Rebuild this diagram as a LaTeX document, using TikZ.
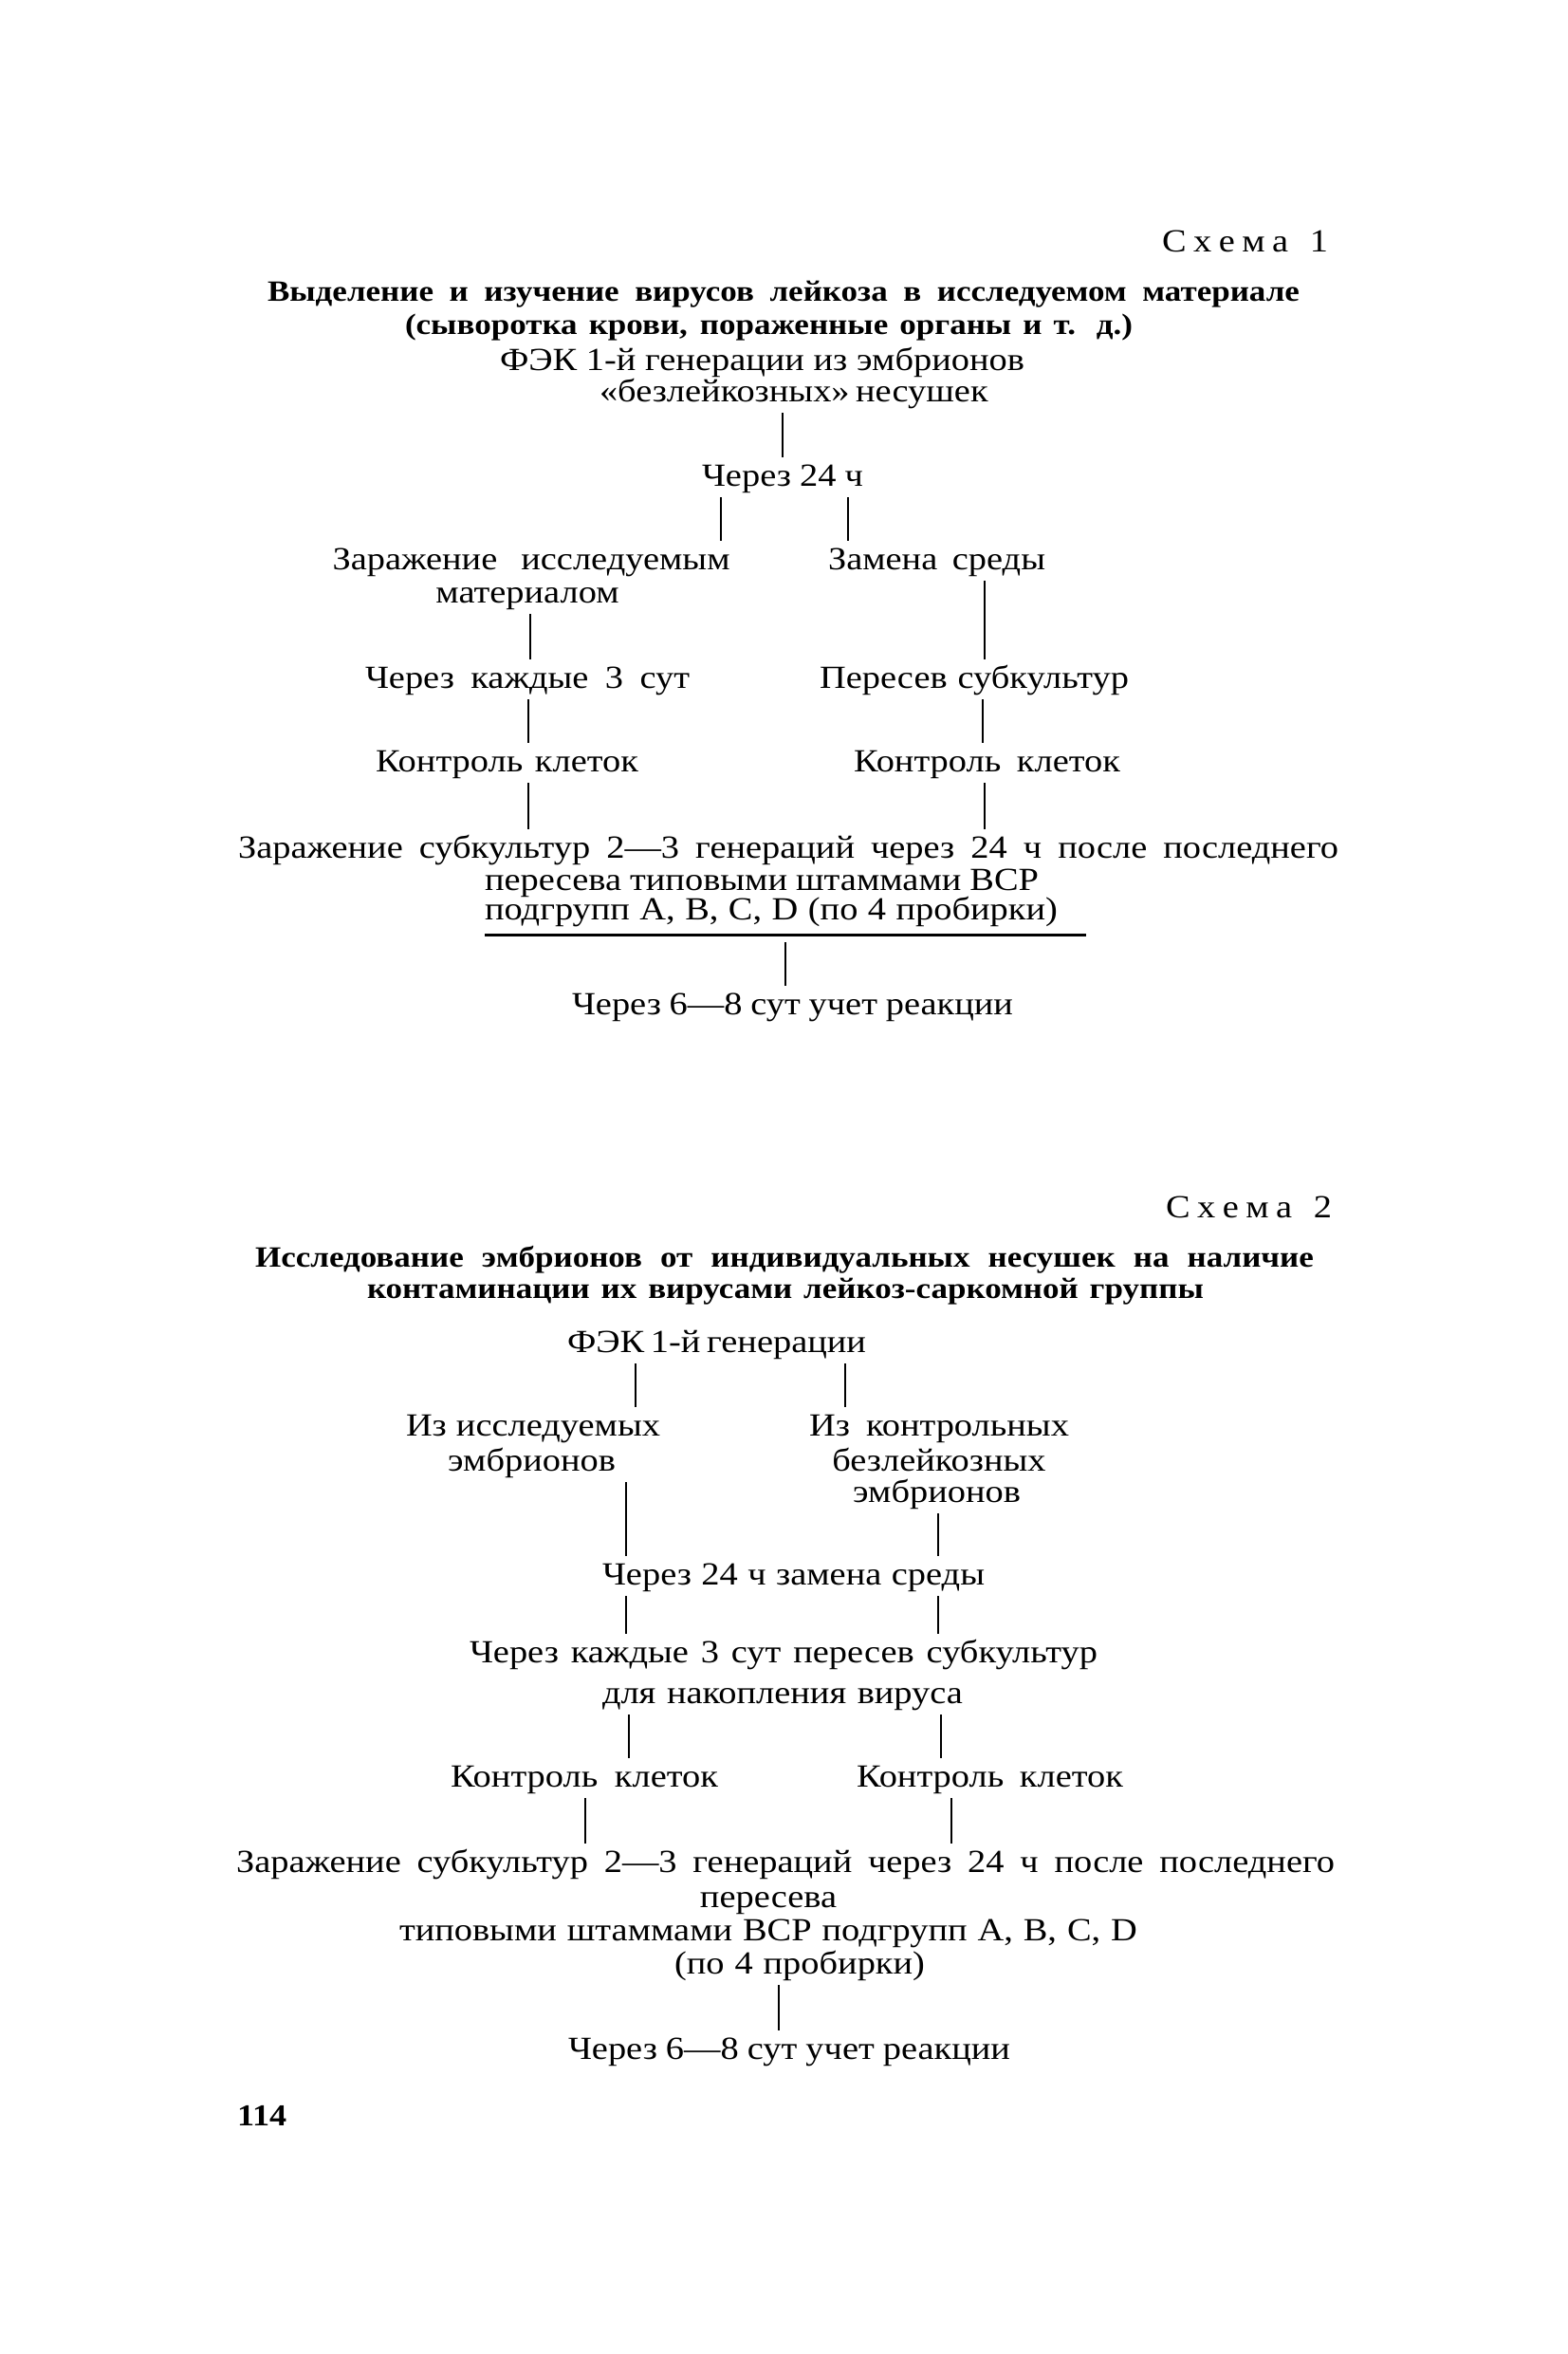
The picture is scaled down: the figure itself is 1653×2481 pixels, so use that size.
\documentclass[tikz,border=0pt]{standalone}
\usepackage{fontspec}
\setmainfont{Liberation Serif}[FakeStretch=1.13]
\newcommand\fitline[2]{\makebox[#1pt][s]{#2}}
\tikzset{
  txt/.style={inner sep=0pt, outer sep=0pt, text height=24pt, text depth=8pt, font=\fontsize{34}{36}\selectfont},
  hd/.style={inner sep=0pt, outer sep=0pt, text height=23pt, text depth=8pt, font=\fontsize{31}{33}\selectfont\bfseries},
  conn/.style={line width=2.6pt, shorten <=4pt, shorten >=6pt},
  rulestyle/.style={line width=3pt},
}
\begin{document}
\begin{tikzpicture}[x=1pt,y=-1pt]
\fill[white] (0,0) rectangle (1653,2481);
\useasboundingbox (0,0) rectangle (1653,2481);

% ---------------- Scheme 1 ----------------
\node[txt,anchor=base east] (sch1) at (1400,265) {\makebox[175pt][s]{С\hfil х\hfil е\hfil м\hfil а\hfil\hfil\hfil 1}};
\node[hd,anchor=base] (t1a) at (826,317) {\fitline{1088}{Выделение и изучение вирусов лейкоза в исследуемом материале}};
\node[hd,anchor=base] (t1b) at (810.5,352) {\fitline{767}{(сыворотка крови, пораженные органы и т. д.)}};
\node[txt,anchor=base] (f1a) at (803.5,390) {\fitline{553}{ФЭК 1-й генерации из эмбрионов}};
\node[txt,anchor=base] (f1b) at (833,423) {\fitline{402}{«безлейкозных» несушек}};
\node[txt,anchor=base] (c1) at (825,512) {\fitline{170}{Через 24 ч}};
\node[txt,anchor=base] (za1) at (560,600) {\fitline{419}{Заражение исследуемым}};
\node[txt,anchor=base] (za2) at (556,635) {материалом};
\node[txt,anchor=base] (k1) at (556,725) {\fitline{342}{Через каждые 3 сут}};
\node[txt,anchor=base] (kk1) at (534.5,813) {\fitline{277}{Контроль клеток}};
\node[txt,anchor=base] (zs1) at (987.5,600) {\fitline{229}{Замена среды}};
\node[txt,anchor=base] (ps1) at (1027,725) {\fitline{326}{Пересев субкультур}};
\node[txt,anchor=base] (kk2) at (1040.5,813) {\fitline{281}{Контроль клеток}};
\node[txt,anchor=base] (zsub1) at (831,904) {\fitline{1160}{Заражение субкультур 2—3 генераций через 24 ч после последнего}};
\node[txt,anchor=base west] (ps2) at (511,938) {\fitline{584}{пересева типовыми штаммами ВСР}};
\node[txt,anchor=base west] (pg1) at (511,969) {\fitline{604}{подгрупп A, B, C, D (по 4 пробирки)}};
\coordinate (rl) at (511,985);
\coordinate (rr) at (1145,985);
\draw[rulestyle] (rl) -- (rr);
\node[txt,anchor=base] (r1) at (835.5,1069) {\fitline{465}{Через 6—8 сут учет реакции}};

\coordinate (xa) at (825,0);
\coordinate (xb) at (760,0);
\coordinate (xc) at (894,0);
\coordinate (xd) at (559,0);
\coordinate (xe) at (557,0);
\coordinate (xf) at (1038,0);
\coordinate (xg) at (1036,0);
\coordinate (xh) at (828,0);

\draw[conn] (f1b.south -| xa) -- (c1.north -| xa);
\draw[conn] (c1.south -| xb) -- (za1.north -| xb);
\draw[conn] (c1.south -| xc) -- (zs1.north -| xc);
\draw[conn] (za2.south -| xd) -- (k1.north -| xd);
\draw[conn] (k1.south -| xe) -- (kk1.north -| xe);
\draw[conn] (kk1.south -| xe) -- (zsub1.north -| xe);
\draw[conn] (zs1.south -| xf) -- (ps1.north -| xf);
\draw[conn] (ps1.south -| xg) -- (kk2.north -| xg);
\draw[conn] (kk2.south -| xf) -- (zsub1.north -| xf);
\draw[conn, shorten <=8pt] (rl -| xh) -- (r1.north -| xh);

% ---------------- Scheme 2 ----------------
\node[txt,anchor=base east] (sch2) at (1404,1283) {\makebox[175pt][s]{С\hfil х\hfil е\hfil м\hfil а\hfil\hfil\hfil 2}};
\node[hd,anchor=base] (t2a) at (827,1335) {\fitline{1116}{Исследование эмбрионов от индивидуальных несушек на наличие}};
\node[hd,anchor=base] (t2b) at (828,1368) {\fitline{882}{контаминации их вирусами лейкоз-саркомной группы}};
\node[txt,anchor=base] (f2) at (755.5,1425) {\fitline{315}{ФЭК 1-й генерации}};
\node[txt,anchor=base] (iz1a) at (562,1513) {\fitline{268}{Из исследуемых}};
\node[txt,anchor=base] (iz1b) at (560.5,1550) {эмбрионов};
\node[txt,anchor=base] (iz2a) at (990,1513) {\fitline{274}{Из контрольных}};
\node[txt,anchor=base] (iz2b) at (990,1550) {безлейкозных};
\node[txt,anchor=base] (iz2c) at (987.5,1583) {эмбрионов};
\node[txt,anchor=base] (c2) at (836.5,1670) {\fitline{403}{Через 24 ч замена среды}};
\node[txt,anchor=base] (k2a) at (826,1752) {\fitline{662}{Через каждые 3 сут пересев субкультур}};
\node[txt,anchor=base] (k2b) at (825,1795) {\fitline{380}{для накопления вируса}};
\node[txt,anchor=base] (kk3) at (616,1883) {\fitline{282}{Контроль клеток}};
\node[txt,anchor=base] (kk4) at (1043.5,1883) {\fitline{281}{Контроль клеток}};
\node[txt,anchor=base] (zsub2) at (828,1973) {\fitline{1158}{Заражение субкультур 2—3 генераций через 24 ч после последнего}};
\node[txt,anchor=base] (ps3) at (810,2010) {пересева};
\node[txt,anchor=base] (tip2) at (810,2045) {\fitline{778}{типовыми штаммами ВСР подгрупп A, B, C, D}};
\node[txt,anchor=base] (po4) at (843,2080) {\fitline{264}{(по 4 пробирки)}};
\node[txt,anchor=base] (r2) at (832,2170) {\fitline{466}{Через 6—8 сут учет реакции}};
\node[txt,anchor=base west,font=\fontsize{32}{34}\selectfont\bfseries] (pn) at (250,2240) {114};

\coordinate (ya) at (670,0);
\coordinate (yb) at (891,0);
\coordinate (yc) at (660,0);
\coordinate (yd) at (989,0);
\coordinate (ye) at (663,0);
\coordinate (yf) at (992,0);
\coordinate (yg) at (617,0);
\coordinate (yh) at (1003,0);
\coordinate (yi) at (821,0);

\draw[conn] (f2.south -| ya) -- (iz1a.north -| ya);
\draw[conn] (f2.south -| yb) -- (iz2a.north -| yb);
\draw[conn] (iz1b.south -| yc) -- (c2.north -| yc);
\draw[conn] (iz2c.south -| yd) -- (c2.north -| yd);
\draw[conn] (c2.south -| yc) -- (k2a.north -| yc);
\draw[conn] (c2.south -| yd) -- (k2a.north -| yd);
\draw[conn] (k2b.south -| ye) -- (kk3.north -| ye);
\draw[conn] (k2b.south -| yf) -- (kk4.north -| yf);
\draw[conn] (kk3.south -| yg) -- (zsub2.north -| yg);
\draw[conn] (kk4.south -| yh) -- (zsub2.north -| yh);
\draw[conn] (po4.south -| yi) -- (r2.north -| yi);
\end{tikzpicture}
\end{document}
